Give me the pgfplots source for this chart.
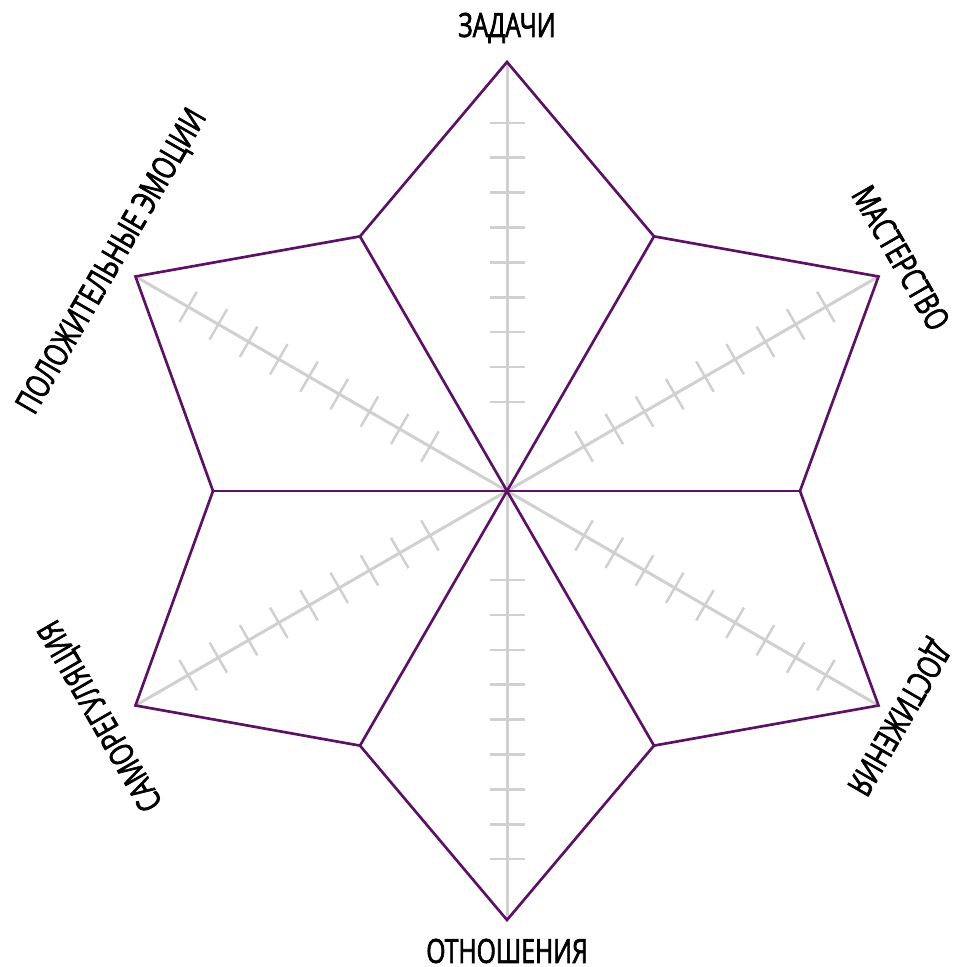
\documentclass[border=0pt]{standalone}
\usepackage{fontspec}
\setmainfont{Open Sans}[FakeStretch=0.74, FakeBold=2]
\usepackage{pgfplots}
\pgfplotsset{compat=1.18}

\definecolor{star}{HTML}{5B1265}
\definecolor{spoke}{HTML}{D0D0D0}

\begin{document}
\begin{tikzpicture}
\begin{axis}[
    x=0.3pt, y=0.3pt,
    xmin=-507, xmax=450,
    ymin=-476, ymax=491,
    hide axis,
    clip=false,
    every node/.style={font=\fontsize{8.8}{10}\selectfont, inner sep=0pt,
        text height=6.3pt, text depth=0pt, anchor=center},
]
    % gray spokes
    \addplot[spoke, line width=0.9pt, data cs=polar] coordinates {(90,429) (0,0) (-90,429)};
    \addplot[spoke, line width=0.9pt, data cs=polar] coordinates {(30,429) (0,0) (-150,429)};
    \addplot[spoke, line width=0.9pt, data cs=polar] coordinates {(-30,429) (0,0) (150,429)};

    % ticks on the spokes
    \addplot[spoke, line width=0.75pt, only marks, mark=|, mark size=5.25pt,
        mark options={rotate=90}, data cs=polar] coordinates {
        (90,89) (90,123.9) (90,158.8) (90,193.7) (90,228.6) (90,263.5) (90,298.4) (90,333.3) (90,368.2)
        (-90,89) (-90,123.9) (-90,158.8) (-90,193.7) (-90,228.6) (-90,263.5) (-90,298.4) (-90,333.3) (-90,368.2)
    };
    \addplot[spoke, line width=0.75pt, only marks, mark=|, mark size=5.25pt,
        mark options={rotate=30}, data cs=polar] coordinates {
        (30,89) (30,123.9) (30,158.8) (30,193.7) (30,228.6) (30,263.5) (30,298.4) (30,333.3) (30,368.2)
        (-150,89) (-150,123.9) (-150,158.8) (-150,193.7) (-150,228.6) (-150,263.5) (-150,298.4) (-150,333.3) (-150,368.2)
    };
    \addplot[spoke, line width=0.75pt, only marks, mark=|, mark size=5.25pt,
        mark options={rotate=-30}, data cs=polar] coordinates {
        (-30,89) (-30,123.9) (-30,158.8) (-30,193.7) (-30,228.6) (-30,263.5) (-30,298.4) (-30,333.3) (-30,368.2)
        (150,89) (150,123.9) (150,158.8) (150,193.7) (150,228.6) (150,263.5) (150,298.4) (150,333.3) (150,368.2)
    };

    % the star
    \addplot[star, line width=0.8pt, line join=miter, data cs=polar] coordinates {
        (90,429) (60,294) (30,429) (0,293) (-30,429) (-60,294)
        (-90,429) (-120,294) (-150,429) (180,294) (150,429) (120,294)
    } -- cycle;
    \addplot[star, line width=0.8pt, data cs=polar] coordinates {(60,294) (0,0) (-120,294)};
    \addplot[star, line width=0.8pt, data cs=polar] coordinates {(0,293) (0,0) (180,294)};
    \addplot[star, line width=0.8pt, data cs=polar] coordinates {(120,294) (0,0) (-60,294)};

    % labels
    \node at (axis cs:0,463) {ЗАДАЧИ};
    \node[rotate=-60] at (axis cs:394,233) {МАСТЕРСТВО};
    \node[rotate=-120] at (axis cs:390,-226) {ДОСТИЖЕНИЯ};
    \node at (axis cs:0,-460) {ОТНОШЕНИЯ};
    \node[rotate=120] at (axis cs:-405,-224) {САМОРЕГУЛЯЦИЯ};
    \node[rotate=60] at (axis cs:-394,229) {ПОЛОЖИТЕЛЬНЫЕ ЭМОЦИИ};

    \coordinate (bl) at (axis cs:-507,-476);
    \coordinate (tr) at (axis cs:450,491);
\end{axis}
\pgfresetboundingbox
\path (bl) rectangle (tr);
\end{tikzpicture}
\end{document}
